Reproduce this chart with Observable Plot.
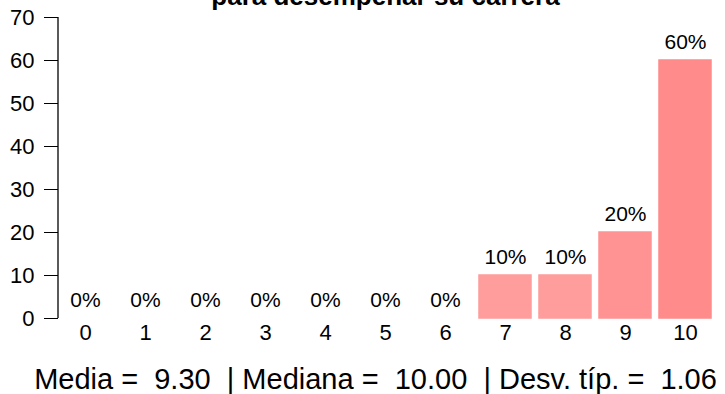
<!DOCTYPE html>
<html>
<head>
<meta charset="utf-8">
<script src="https://cdn.jsdelivr.net/npm/d3@7"></script>
<script src="https://cdn.jsdelivr.net/npm/@observablehq/plot@0.6"></script>
<style>
  body { margin: 0; background: #fff; }
  #chart { width: 725px; height: 394px; }
</style>
</head>
<body>
<div id="chart"></div>
<script>
// Score categories (0–10) and share of responses per score, in percent
const scores = ["0", "1", "2", "3", "4", "5", "6", "7", "8", "9", "10"];
const percents = [0, 0, 0, 0, 0, 0, 0, 10, 10, 20, 60];
const yTicks = [0, 10, 20, 30, 40, 50, 60, 70];

// Heading line and summary statistics
const titleLine = "para desempeñar su carrera";
const media = "9.30";
const mediana = "10.00";
const desvTip = "1.06";

const rows = scores.map((score, i) => ({score, pct: percents[i]}));
const caption = `Media =  ${media}  | Mediana =  ${mediana}  | Desv. típ. =  ${desvTip}`;

// Vertical axis line spanning the y domain at the left edge of the frame
const yAxisLine = (index, scales, values, dimensions) => {
  const [y0, y1] = scales.y.domain ? scales.y.domain() : [0, 70];
  const line = d3.create("svg:line")
    .attr("x1", dimensions.marginLeft)
    .attr("x2", dimensions.marginLeft)
    .attr("y1", scales.y(y0))
    .attr("y2", scales.y(y1))
    .attr("stroke", "#000")
    .attr("stroke-width", 1.3);
  return line.node();
};

// Axes: tick labels a little larger than the bar labels
const axes = Plot.axisY
  ? [
      Plot.axisY({ticks: yTicks, tickSize: 14, tickPadding: 10, fontSize: 22, label: null}),
      Plot.axisX({tickSize: 0, tickPadding: 6, fontSize: 22, label: null})
    ]
  : [];

const chart = Plot.plot({
  width: 725,
  height: 394,
  marginLeft: 58,
  marginRight: 13,
  marginTop: 17,
  marginBottom: 76,
  style: {
    fontFamily: "'Liberation Sans', Arial, Helvetica, sans-serif",
    fontSize: "21px",
    color: "#000",
    background: "#fff"
  },
  x: {domain: scores, paddingInner: 0.14, paddingOuter: 0, tickSize: 0, tickPadding: 6, label: null},
  y: {domain: [0, 70], ticks: yTicks, tickSize: 14, tickPadding: 10, label: null},
  color: {
    type: "linear",
    domain: [0, 10, 20, 60],
    range: ["#ffb2b2", "#ff9c9c", "#ff9393", "#ff8b8b"]
  },
  marks: [
    ...axes,
    Plot.barY(rows, {x: "score", y: "pct", fill: "pct", stroke: "pct", strokeWidth: 1.5}),
    Plot.text(rows, {x: "score", y: "pct", text: d => `${d.pct}%`, lineAnchor: "bottom", dy: -12, fontSize: 21, fill: "#000"}),
    yAxisLine,
    Plot.text([titleLine], {frameAnchor: "top", lineAnchor: "bottom", dy: -13, fontSize: 26, fontWeight: "bold", fill: "#000"}),
    Plot.text([caption], {frameAnchor: "bottom", lineAnchor: "bottom", dy: 70, dx: -10, fontSize: 29, fill: "#000"})
  ]
});

document.getElementById("chart").appendChild(chart);
</script>
</body>
</html>
